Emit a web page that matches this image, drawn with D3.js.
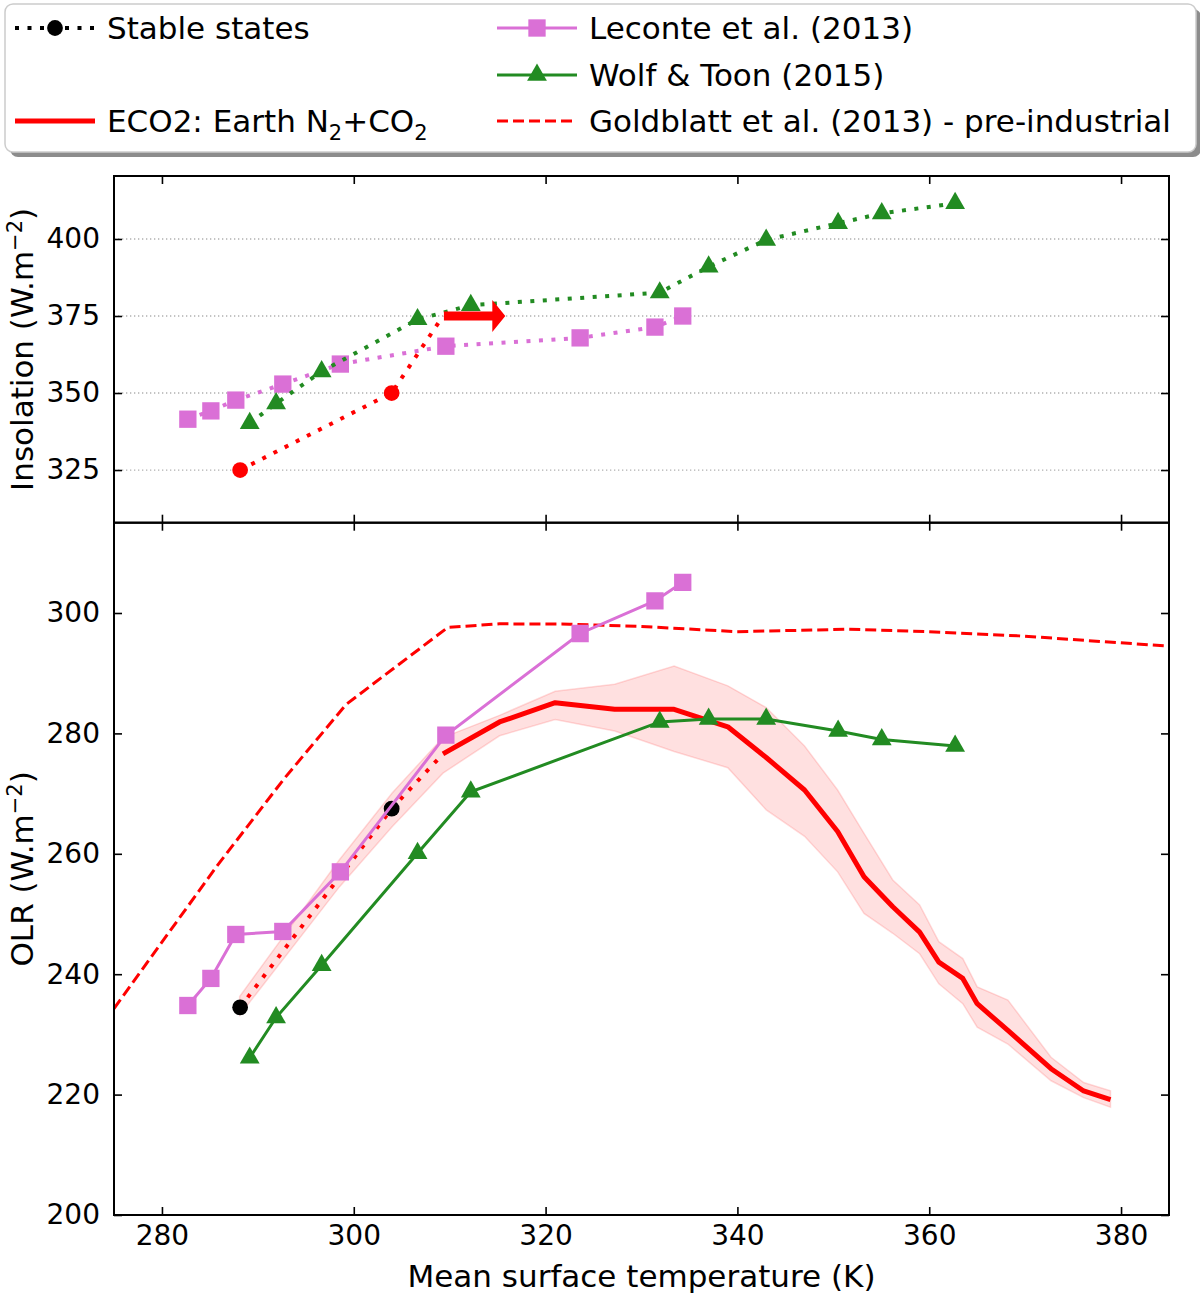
<!DOCTYPE html>
<html>
<head>
<meta charset="utf-8">
<script src="https://cdn.jsdelivr.net/npm/d3@7"></script>
<style>
  body { margin: 0; background: #fff; }
  svg { display: block; font-family: "DejaVu Sans", sans-serif; }
</style>
</head>
<body>
<svg id="chart" width="1200" height="1294"></svg>
<script>
// tick values
const xTicks = [280, 300, 320, 340, 360, 380];
const insolTicks = [325, 350, 375, 400];
const olrTicks = [200, 220, 240, 260, 280, 300];

// Leconte et al. (2013)
const tempLeconte = [282.7, 285.1, 287.7, 292.6, 298.6, 309.6, 323.6, 331.4, 334.3];
const insolLeconte = [341.5, 344.2, 347.7, 352.9, 359.4, 365.2, 367.9, 371.4, 375.0];
const olrLeconte = [234.8, 239.3, 246.6, 247.1, 257.0, 279.7, 296.6, 302.0, 305.1];

// Wolf & Toon (2015)
const tempWolf = [289.15, 291.9, 296.65, 306.65, 312.2, 331.9, 337.0, 343.0, 350.5, 355.05, 362.7];
const insolWolf = [340.2, 346.6, 357.0, 373.9, 378.5, 382.6, 391.0, 399.7, 405.1, 408.3, 411.6];
const olrWolf = [226.1, 232.8, 241.5, 260.1, 270.3, 281.9, 282.4, 282.4, 280.4, 279.0, 277.9];

// ECO2 stable states (last point = onset of runaway, no marker)
const tempStable = [288.15, 303.95, 309.3];
const insolStable = [325, 350, 375];
const olrStable = [234.5, 267.5, 276.6];
const nStableMarkers = 2;

// runaway arrow (top panel)
const arrowTemp = [309.4, 315.8];
const arrowInsol = 375;

// ECO2 runaway mean OLR
const tempEco2 = [309.3, 315.2, 321.0, 327.2, 333.4, 339.0, 343.0, 347.0, 350.45, 353.2, 356.2,
  359.0, 361.0, 363.5, 365.0, 368.2, 372.7, 376.1, 378.9];
const olrEco2 = [276.6, 281.9, 285.1, 284.0, 284.0, 281.1, 276.0, 270.6, 263.7, 256.2, 251.2,
  247.0, 242.0, 239.3, 235.1, 230.65, 224.3, 220.6, 219.15];

// ECO2 spread (shaded band)
const tempBand = [288.1, 298.5, 304.0, 309.3, 315.2, 321.0, 327.2, 333.4, 339.0, 343.0, 347.0,
  350.45, 353.2, 356.2, 359.0, 361.0, 363.5, 365.0, 368.2, 372.7, 376.1, 378.9];
const olrBandLow = [233.2, 254.5, 264.5, 273.4, 279.6, 282.3, 280.4, 277.0, 274.3, 267.3, 262.9,
  257.0, 250.1, 246.8, 243.4, 238.4, 235.1, 231.2, 228.4, 222.3, 219.5, 217.9];
const olrBandHigh = [236.3, 259.0, 270.1, 279.3, 283.0, 287.0, 288.15, 291.2, 287.9, 284.3, 277.9,
  270.6, 263.4, 255.65, 251.5, 245.4, 242.6, 237.9, 235.7, 226.2, 222.0, 220.65];

// Goldblatt et al. (2013) pre-industrial
const tempGold = [275.0, 285.7, 292.8, 299.2, 303.2, 309.8, 315.2, 322.5, 329.5, 339.9, 351.6, 360.0, 369.4, 385.0];
const olrGold = [234.3, 257.9, 272.6, 284.8, 289.65, 297.6, 298.2, 298.15, 297.8, 296.9, 297.3, 296.9, 296.2, 294.5];

// colours
const RED = '#ff0000', ORCHID = '#da70d6', GREEN = '#228b22';

// layout
const left = 114, right = 1169, top1 = 176, bot1 = 522.7, bot2 = 1215;

const svg = d3.select('#chart');

const x = d3.scaleLinear().domain([275, 385]).range([left, right]);
const yTop = d3.scaleLinear().domain([307.9, 420.45]).range([bot1, top1]);
const yBot = d3.scaleLinear().domain([200, 315]).range([bot2, bot1]);

// clip paths
const defs = svg.append('defs');
defs.append('clipPath').attr('id', 'clipTop').append('rect')
  .attr('x', left).attr('y', top1).attr('width', right - left).attr('height', bot1 - top1);
defs.append('clipPath').attr('id', 'clipBot').append('rect')
  .attr('x', left).attr('y', bot1).attr('width', right - left).attr('height', bot2 - bot1);

const zip = (a, b) => a.map((v, i) => [v, b[i]]);

// ---------- top panel ----------
const gTop = svg.append('g');

// dotted grid
gTop.selectAll('.grid').data(insolTicks).enter().append('line')
  .attr('x1', left).attr('x2', right)
  .attr('y1', (d) => yTop(d)).attr('y2', (d) => yTop(d))
  .attr('stroke', '#b0b0b0').attr('stroke-width', 1.3).attr('stroke-dasharray', '1.3,2.7');

const pTop = gTop.append('g').attr('clip-path', 'url(#clipTop)');
const lineTop = d3.line().x((d) => x(d[0])).y((d) => yTop(d[1]));

function dotted(g, data, line, color) {
  g.append('path').datum(data).attr('d', line).attr('fill', 'none')
    .attr('stroke', color).attr('stroke-width', 4).attr('stroke-dasharray', '4,8.5');
}

const sq = d3.symbol(d3.symbolSquare, 300);
const tri = d3.symbol(d3.symbolTriangle, 170);
const circ = d3.symbol(d3.symbolCircle, 195);

function markers(g, data, sx, sy, sym, color) {
  g.selectAll(null).data(data).enter().append('path')
    .attr('d', sym)
    .attr('transform', (d) => 'translate(' + sx(d[0]) + ',' + sy(d[1]) + ')')
    .attr('fill', color);
}

dotted(pTop, zip(tempLeconte, insolLeconte), lineTop, ORCHID);
markers(pTop, zip(tempLeconte, insolLeconte), x, yTop, sq, ORCHID);
dotted(pTop, zip(tempWolf, insolWolf), lineTop, GREEN);
markers(pTop, zip(tempWolf, insolWolf), x, yTop, tri, GREEN);
dotted(pTop, zip(tempStable, insolStable), lineTop, RED);
markers(pTop, zip(tempStable, insolStable).slice(0, nStableMarkers), x, yTop, circ, RED);

// runaway arrow
const ax0 = x(arrowTemp[0]), ax1 = x(arrowTemp[1]), ay = yTop(arrowInsol);
const headLen = 13, headHalf = 16, shaftHalf = 4.5;
pTop.append('path')
  .attr('d', 'M' + ax0 + ',' + (ay - shaftHalf) +
    'L' + (ax1 - headLen) + ',' + (ay - shaftHalf) +
    'L' + (ax1 - headLen) + ',' + (ay - headHalf) +
    'L' + ax1 + ',' + ay +
    'L' + (ax1 - headLen) + ',' + (ay + headHalf) +
    'L' + (ax1 - headLen) + ',' + (ay + shaftHalf) +
    'L' + ax0 + ',' + (ay + shaftHalf) + 'Z')
  .attr('fill', RED);

// ---------- bottom panel ----------
const pBot = svg.append('g').attr('clip-path', 'url(#clipBot)');
const lineBot = d3.line().x((d) => x(d[0])).y((d) => yBot(d[1]));

pBot.append('path')
  .datum(tempBand.map((t, i) => [t, olrBandLow[i], olrBandHigh[i]]))
  .attr('d', d3.area().x((d) => x(d[0])).y0((d) => yBot(d[1])).y1((d) => yBot(d[2])))
  .attr('fill', 'rgba(255,0,0,0.12)')
  .attr('stroke', 'rgba(255,0,0,0.14)').attr('stroke-width', 1.5);

pBot.append('path').datum(zip(tempEco2, olrEco2)).attr('d', lineBot)
  .attr('fill', 'none').attr('stroke', RED).attr('stroke-width', 5).attr('stroke-linejoin', 'round');

dotted(pBot, zip(tempStable, olrStable), lineBot, RED);
markers(pBot, zip(tempStable, olrStable).slice(0, nStableMarkers), x, yBot, circ, '#000');

pBot.append('path').datum(zip(tempGold, olrGold)).attr('d', lineBot)
  .attr('fill', 'none').attr('stroke', RED).attr('stroke-width', 3).attr('stroke-dasharray', '11,5');

pBot.append('path').datum(zip(tempLeconte, olrLeconte)).attr('d', lineBot)
  .attr('fill', 'none').attr('stroke', ORCHID).attr('stroke-width', 3);
markers(pBot, zip(tempLeconte, olrLeconte), x, yBot, sq, ORCHID);

pBot.append('path').datum(zip(tempWolf, olrWolf)).attr('d', lineBot)
  .attr('fill', 'none').attr('stroke', GREEN).attr('stroke-width', 3);
markers(pBot, zip(tempWolf, olrWolf), x, yBot, tri, GREEN);

// ---------- axes ----------
const TICK = 8;
function styleAxis(g, fs) {
  g.select('.domain').remove();
  g.selectAll('.tick line').attr('stroke', '#000').attr('stroke-width', 1.6);
  g.selectAll('.tick text').attr('fill', '#000')
    .style('font-family', '"DejaVu Sans", sans-serif').style('font-size', fs + 'px');
}

// top panel axes
styleAxis(svg.append('g').attr('transform', 'translate(0,' + top1 + ')')
  .call(d3.axisTop(x).tickValues(xTicks).tickSizeInner(-TICK).tickSizeOuter(0).tickFormat('')), 28);
styleAxis(svg.append('g').attr('transform', 'translate(0,' + bot1 + ')')
  .call(d3.axisBottom(x).tickValues(xTicks).tickSizeInner(-TICK).tickSizeOuter(0).tickFormat('')), 28);
styleAxis(svg.append('g').attr('transform', 'translate(' + left + ',0)')
  .call(d3.axisLeft(yTop).tickValues(insolTicks).tickSizeInner(-TICK).tickSizeOuter(0).tickPadding(14)), 28);
styleAxis(svg.append('g').attr('transform', 'translate(' + right + ',0)')
  .call(d3.axisRight(yTop).tickValues(insolTicks).tickSizeInner(-TICK).tickSizeOuter(0).tickFormat('')), 28);

// bottom panel axes
styleAxis(svg.append('g').attr('transform', 'translate(0,' + bot1 + ')')
  .call(d3.axisTop(x).tickValues(xTicks).tickSizeInner(-TICK).tickSizeOuter(0).tickFormat('')), 28);
styleAxis(svg.append('g').attr('transform', 'translate(0,' + bot2 + ')')
  .call(d3.axisBottom(x).tickValues(xTicks).tickSizeInner(-TICK).tickSizeOuter(0).tickPadding(10)), 28);
styleAxis(svg.append('g').attr('transform', 'translate(' + left + ',0)')
  .call(d3.axisLeft(yBot).tickValues(olrTicks).tickSizeInner(-TICK).tickSizeOuter(0).tickPadding(14)), 28);
styleAxis(svg.append('g').attr('transform', 'translate(' + right + ',0)')
  .call(d3.axisRight(yBot).tickValues(olrTicks).tickSizeInner(-TICK).tickSizeOuter(0).tickFormat('')), 28);

// frames
svg.append('rect').attr('x', left).attr('y', top1).attr('width', right - left).attr('height', bot1 - top1)
  .attr('fill', 'none').attr('stroke', '#000').attr('stroke-width', 2);
svg.append('rect').attr('x', left).attr('y', bot1).attr('width', right - left).attr('height', bot2 - bot1)
  .attr('fill', 'none').attr('stroke', '#000').attr('stroke-width', 2);

// axis labels
const LFS = 31;
svg.append('text').attr('x', (left + right) / 2).attr('y', 1287)
  .attr('text-anchor', 'middle').style('font-size', LFS + 'px').text('Mean surface temperature (K)');

function yLabel(name, cy) {
  const t = svg.append('text').attr('transform', 'translate(33,' + cy + ') rotate(-90)')
    .attr('text-anchor', 'middle').style('font-size', LFS + 'px');
  t.append('tspan').text(name + ' (W.m');
  t.append('tspan').attr('dy', -11).style('font-size', '21px').text('\u22122');
  t.append('tspan').attr('dy', 11).text(')');
}
yLabel('Insolation', (top1 + bot1) / 2);
yLabel('OLR', (bot1 + bot2) / 2);

// ---------- legend ----------
const lg = svg.append('g');
lg.append('rect').attr('x', 10).attr('y', 9).attr('width', 1191).attr('height', 148).attr('rx', 8)
  .attr('fill', '#8c8c8c');
lg.append('rect').attr('x', 5).attr('y', 4).attr('width', 1191).attr('height', 148).attr('rx', 8)
  .attr('fill', '#fff').attr('stroke', '#cccccc').attr('stroke-width', 1.5);

const rows = [28, 75, 121];
const cols = [15, 497];
const hLen = 80;

function legendText(cx, cy, parts) {
  const t = lg.append('text').attr('x', cx + hLen + 12).attr('y', cy + 11).style('font-size', LFS + 'px');
  parts.forEach((p) => {
    const s = t.append('tspan').text(p[0]);
    if (p[1]) s.attr('dy', p[1]);
    if (p[2]) s.style('font-size', p[2] + 'px');
  });
}

// Stable states
lg.append('line').attr('x1', cols[0]).attr('x2', cols[0] + hLen).attr('y1', rows[0]).attr('y2', rows[0])
  .attr('stroke', '#000').attr('stroke-width', 4).attr('stroke-dasharray', '4,8.5');
lg.append('path').attr('d', circ).attr('transform', 'translate(' + (cols[0] + hLen / 2) + ',' + rows[0] + ')');
legendText(cols[0], rows[0], [['Stable states']]);

// ECO2
lg.append('line').attr('x1', cols[0]).attr('x2', cols[0] + hLen).attr('y1', rows[2]).attr('y2', rows[2])
  .attr('stroke', RED).attr('stroke-width', 5);
legendText(cols[0], rows[2], [['ECO2: Earth N'], ['2', 8, 21], ['+CO', -8], ['2', 8, 21]]);

// Leconte
lg.append('line').attr('x1', cols[1]).attr('x2', cols[1] + hLen).attr('y1', rows[0]).attr('y2', rows[0])
  .attr('stroke', ORCHID).attr('stroke-width', 3);
lg.append('path').attr('d', sq).attr('fill', ORCHID)
  .attr('transform', 'translate(' + (cols[1] + hLen / 2) + ',' + rows[0] + ')');
legendText(cols[1], rows[0], [['Leconte et al. (2013)']]);

// Wolf
lg.append('line').attr('x1', cols[1]).attr('x2', cols[1] + hLen).attr('y1', rows[1]).attr('y2', rows[1])
  .attr('stroke', GREEN).attr('stroke-width', 3);
lg.append('path').attr('d', tri).attr('fill', GREEN)
  .attr('transform', 'translate(' + (cols[1] + hLen / 2) + ',' + rows[1] + ')');
legendText(cols[1], rows[1], [['Wolf & Toon (2015)']]);

// Goldblatt
lg.append('line').attr('x1', cols[1]).attr('x2', cols[1] + hLen).attr('y1', rows[2]).attr('y2', rows[2])
  .attr('stroke', RED).attr('stroke-width', 3).attr('stroke-dasharray', '11,5');
legendText(cols[1], rows[2], [['Goldblatt et al. (2013) - pre-industrial']]);
</script>
</body>
</html>
